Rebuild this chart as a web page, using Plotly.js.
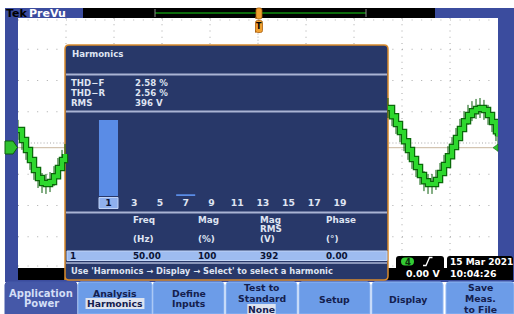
<!DOCTYPE html>
<html><head><meta charset="utf-8">
<script src="https://cdn.plot.ly/plotly-3.0.1.min.js"></script>
<style>html,body{margin:0;padding:0;background:#fff;overflow:hidden}#c{width:514px;height:314px}</style>
</head><body><div id="c"></div>
<script>
// ---- data ----
const harmonicOrders = ['1','3','5','7','9','11','13','15','17','19'];
const harmonicMagPct = [100, 0.1, 0.1, 2.2, 0.1, 0.1, 0.1, 0.1, 0.1, 0.1];
const selectedHarmonic = '1';
const summaryLabels = ['THD\u2212F','THD\u2212R','RMS'];
const summaryValues = ['2.58 %','2.56 %','396 V'];
const tableHead1 = ['Freq','Mag','Mag','Phase'];
const tableHead2 = ['','','RMS',''];
const tableUnits = ['(Hz)','(%)','(V)','(\u00b0)'];
const selectedRow = ['1','50.00','100','392','0.00'];
const hintText = "Use 'Harmonics \u2192 Display \u2192 Select' to select a harmonic";
// channel 4 waveform (time in divisions, volts in divisions), visible parts only
const waveTime = [0,0.083,0.167,0.25,0.333,0.417,0.5,0.583,0.667,0.75,0.833,0.917,0.979,null,
  7.708,7.792,7.875,7.958,8.042,8.125,8.208,8.292,8.375,8.458,8.542,8.625,8.708,8.792,8.875,8.958,
  9.042,9.125,9.208,9.292,9.375,9.458,9.542,9.625,9.708,9.792,9.875,9.958,10];
const waveVolt = [0.57,0.25,-0.07,-0.39,-0.71,-0.97,-1.13,-1.16,-1.10,-0.91,-0.65,-0.39,-0.20,null,
  1.27,1.01,0.76,0.50,0.21,-0.07,-0.36,-0.62,-0.87,-1.07,-1.16,-1.16,-1.03,-0.81,-0.55,-0.27,
  0.02,0.31,0.60,0.85,1.05,1.17,1.24,1.27,1.21,1.05,0.82,0.53,0.37];
const buttonLines = [['Application','Power'],['Analysis','Harmonics'],['Define','Inputs'],['Test to','Standard','None'],['Setup'],['Display'],['Save','Meas.','to File']];
const buttonValue = [null,'Harmonics',null,'None',null,null,null];
const chanLabel = '4';
const trigLevel = '0.00 V';
const dateText = '15 Mar 2021';
const timeText = '10:04:26';

// ---- layout helpers ----
const W=514,H=314;
const X=p=>p/W, Y=p=>1-p/H;
const F='DejaVu Sans';
function rr(x0,y0,x1,y1,r,topOnly){
  const a=`M${X(x0)},${Y(y1)} L${X(x0)},${Y(y0+r)} Q${X(x0)},${Y(y0)} ${X(x0+r)},${Y(y0)} L${X(x1-r)},${Y(y0)} Q${X(x1)},${Y(y0)} ${X(x1)},${Y(y0+r)} `;
  if(topOnly) return a+`L${X(x1)},${Y(y1)} Z`;
  return a+`L${X(x1)},${Y(y1-r)} Q${X(x1)},${Y(y1)} ${X(x1-r)},${Y(y1)} L${X(x0+r)},${Y(y1)} Q${X(x0)},${Y(y1)} ${X(x0)},${Y(y1-r)} Z`;
}
const shapes=[], ann=[];
const rect=(x0,y0,x1,y1,fill,line,lw,layer)=>shapes.push({type:'rect',xref:'paper',yref:'paper',x0:X(x0),x1:X(x1),y0:Y(y1),y1:Y(y0),fillcolor:fill,line:{color:line||fill,width:lw||0},layer:layer||'below'});
const path=(d,fill,line,lw,layer)=>shapes.push({type:'path',xref:'paper',yref:'paper',path:d,fillcolor:fill||'rgba(0,0,0,0)',line:{color:line||'rgba(0,0,0,0)',width:lw||0},layer:layer||'below'});
const seg=(x0,y0,x1,y1,color,w,dash,layer)=>shapes.push({type:'line',xref:'paper',yref:'paper',x0:X(x0),x1:X(x1),y0:Y(y0),y1:Y(y1),line:{color:color,width:w,dash:dash||'solid'},layer:layer||'below'});
const txt=(s,px,py,size,color,weight,anchor)=>ann.push({text:s,x:X(px),y:Y(py),xref:'paper',yref:'paper',xanchor:anchor||'left',yanchor:'middle',showarrow:false,borderpad:0,font:{family:F,size:size,color:color,weight:weight||'normal'}});

const BLUE='#3b4c9e', NAVY='#283869', LT='#dfe4f2';
// frame
rect(5,8,514,282,BLUE);
rect(18,18,498,268,'#ffffff');
// graticule
for(let k=1;k<10;k++){const x=18+48*k; seg(x,18,x,268,'#a8a8a8',1,k===5?'1px,2.1px':'1px,5.25px');}
for(let k=1;k<8;k++){const y=18+31.25*k; seg(18,y,498,y,'#a8a8a8',1,k===4?'1px,2.2px':'1px,8.6px');}
seg(18,20,498,20,'#b8b8b8',1,'1px,8.6px'); seg(18,266,498,266,'#b8b8b8',1,'1px,8.6px');
// ground reference line
seg(18,147.7,498,147.7,'#c9b79f',1);
// top band
rect(83,8,435,18,'#000000');
seg(155,13,366,13,'#0b6a0b',2);
seg(155,9,155,17,'#8a8a8a',1); seg(366,9,366,17,'#8a8a8a',1);
// bottom black strips
rect(18,268,498,280,'#000000');
path(rr(396,256,444,280,3,true),'#000000');
path(rr(447,256,513,280,3,true),'#000000');
// panel
path(rr(65,45,388,280,4,false),NAVY,'#d88a2c',1.5);
seg(66,74.5,387,74.5,'#aab4d4',2); seg(66,111.5,387,111.5,'#aab4d4',2);
seg(66,212.5,387,212.5,'#aab4d4',2); seg(66,263,387,263,'#aab4d4',1.5);
rect(67,251,387,260.5,'#9ebcf0','#c3d6f7',1);
rect(99,197.5,118,208.5,'#8fb0ee','#c1d4f8',1);
// channel markers
path(`M${X(5)},${Y(141)} L${X(13)},${Y(141)} L${X(17.5)},${Y(147.5)} L${X(13)},${Y(154)} L${X(5)},${Y(154)} Z`,'#2fc22f','#0d5d0d',1,'above');
path(`M${X(498)},${Y(144)} L${X(493)},${Y(147.7)} L${X(498)},${Y(151.4)} Z`,'#2fc22f','#0d5d0d',0.5,'above');
// trigger markers
path(rr(255.5,20.5,262.5,32.5,2,false),'#f0a030','#a86010',0.8,'above');
path(rr(256,8,262,19,2,false),'#f0a030','#a86010',0.8,'above');
// trigger readout
path(rr(401,257.5,414,265.5,4,false),'#33cc33');
path(`M${X(423)},${Y(265.5)} L${X(426)},${Y(265.5)} L${X(429.5)},${Y(257.5)} L${X(432.5)},${Y(257.5)}`,null,'#ffffff',1.3,'above');
// buttons
const bx=[[5,77],[78,152],[153,224],[226,297],[299,370],[372,443],[446,514]];
bx.forEach((b,i)=>{
  path(rr(b[0],282,b[1],314,3,true), i===0?'#4558a8':'#6c9ce8', i===0?'#4558a8':'#8fb6f2', 1);
  const lines=buttonLines[i], n=lines.length;
  const ys = n===1?[299]:(n===2?[293,303.5]:[287.5,298.5,309.5]);
  const cx=(b[0]+b[1])/2;
  lines.forEach((s,j)=>{
    const sel = buttonValue[i]===s;
    if(sel){ const w = s.length*6.1+4; rect(cx-w/2,ys[j]-5.5,cx+w/2,ys[j]+5.5,'#dde3f0'); }
    txt(s,cx,ys[j],i===0?10:9.3,i===0?'#d3def6':'#14204e','bold','center');
  });
});

// ---- texts ----
txt('Tek',5,13.5,11,'#000000','bold');
txt('PreVu',28,13.5,11,'#ffffff','bold');
txt('T',259,26.8,8,'#000000','bold','center');
txt('Harmonics',71,53.5,8.6,LT,'bold');
summaryLabels.forEach((s,i)=>{txt(s,70,83+10*i,8.6,LT,'bold'); txt(summaryValues[i],134,83+10*i,8.6,LT,'bold');});
const colX=[132,197,259,325];
tableHead1.forEach((s,i)=>{txt(s,colX[i],220,8.8,LT,'bold'); if(tableHead2[i]) txt(tableHead2[i],colX[i],228.5,8.8,LT,'bold'); txt(tableUnits[i],colX[i],238.5,8.8,LT,'bold');});
txt(selectedRow[0],69,256,8.8,'#0b1333','bold');
selectedRow.slice(1).forEach((s,i)=>txt(s,colX[i],256,8.8,'#0b1333','bold'));
txt(hintText,70,270.5,8.3,LT,'bold');
txt(chanLabel,407.5,261.7,8.5,'#0b2a0b','bold','center');
txt(trigLevel,441,273,9.4,'#ffffff','bold','right');
txt(dateText,449,261.5,9,'#ffffff','bold');
txt(timeText,449,273,9.4,'#ffffff','bold');

// ---- traces ----
const tickText = harmonicOrders.map(h=>h===selectedHarmonic?`<span style="color:#0b1333">${h}</span>`:h);
const traces=[
  {x:waveTime,y:waveVolt,xaxis:'x',yaxis:'y',type:'scatter',mode:'lines',line:{shape:'hv',color:'#0a6a0a',width:6.5},hoverinfo:'skip',connectgaps:false},
  {x:waveTime,y:waveVolt,xaxis:'x',yaxis:'y',type:'scatter',mode:'lines',line:{shape:'hv',color:'#2ed82e',width:4},hoverinfo:'skip',connectgaps:false,
    error_y:{type:'constant',value:0.32,color:'#0b5e0b',thickness:1,width:0}},
  {x:harmonicOrders,y:harmonicMagPct,xaxis:'x2',yaxis:'y2',type:'bar',marker:{color:'#5a8ce6',line:{width:0}},hoverinfo:'skip'}
];
const layout={
  width:W,height:H,margin:{l:0,r:0,t:0,b:0},paper_bgcolor:'#ffffff',plot_bgcolor:'rgba(0,0,0,0)',showlegend:false,
  xaxis:{domain:[X(18),X(498)],range:[0,10],visible:false,fixedrange:true},
  yaxis:{domain:[Y(268),Y(18)],range:[-3.85,4.15],visible:false,fixedrange:true},
  xaxis2:{domain:[X(95.64),X(352.9)],type:'category',anchor:'y2',showgrid:false,zeroline:false,showline:false,ticks:'',
    tickmode:'array',tickvals:harmonicOrders,ticktext:tickText,tickfont:{family:F,size:9.3,color:LT,weight:'bold'}},
  yaxis2:{domain:[Y(196),Y(120)],range:[0,100],anchor:'x2',visible:false},
  bargap:0.26,shapes:shapes,annotations:ann
};
Plotly.newPlot('c',traces,layout,{staticPlot:true,displayModeBar:false});
</script></body></html>
